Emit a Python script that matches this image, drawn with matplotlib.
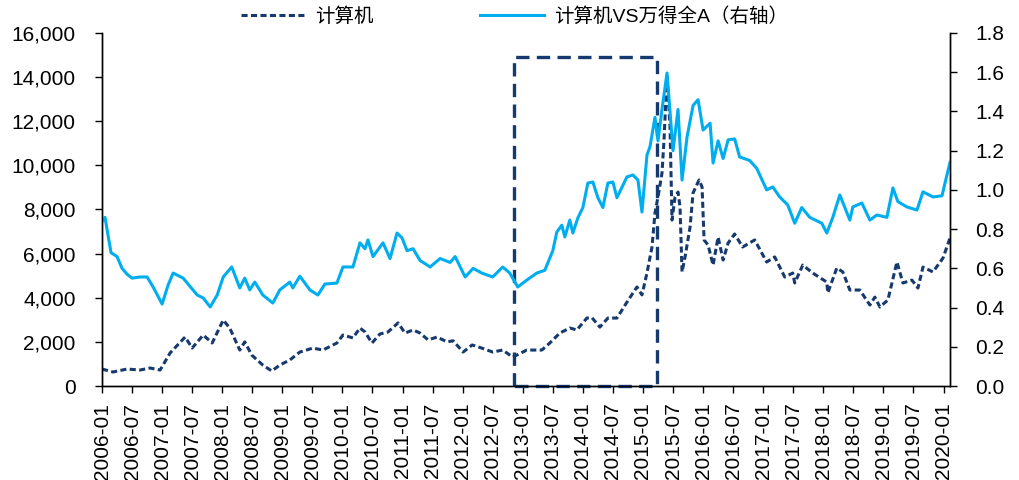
import matplotlib
matplotlib.use("Agg")
import matplotlib.pyplot as plt
from matplotlib.ticker import FuncFormatter, MultipleLocator

plt.rcParams['font.family'] = ['Liberation Sans', 'Noto Sans CJK SC', 'DejaVu Sans']

# months since 2006-01
months_idx = [0, 2.2, 5.0, 7.6, 9.6, 11.6, 13.6, 16.6, 18.0, 20.2,
              22.0, 24.2, 25.5, 27.5, 28.5, 29.9, 32.1, 33.9, 35.5, 37.5,
              39.5, 42.1, 44.1, 46.9, 48.1, 50.1, 51.5, 52.5, 53.9, 55.5,
              57.1, 59.1, 60.5, 62.1, 63.5, 65.1, 66.9, 68.9, 70.1, 72.1,
              73.9, 75.8, 78.0, 80.0, 82.0, 84.8, 87.8, 89.4, 91.4, 93.4,
              94.8, 96.8, 97.8, 99.4, 101.0, 102.8, 104.8, 106.8, 107.8, 108.8,
              109.8, 110.4, 111.0, 111.8, 112.2, 112.8, 113.4, 113.8, 114.4, 115.0,
              115.4, 115.8, 116.4, 117.4, 118.0, 119.2, 119.8, 120.2, 121.0, 122.0,
              123.0, 124.0, 125.0, 126.3, 127.9, 130.3, 132.7, 134.3, 136.3, 137.9,
              138.3, 139.9, 141.9, 144.7, 144.9, 146.7, 147.9, 149.3, 151.3, 153.3,
              154.3, 155.3, 156.9, 158.7, 159.9, 161.7, 162.9, 163.9, 165.9, 167.9,
              169.3]
computer_idx = [770, 635, 770, 725, 815, 725, 1500, 2220, 1720, 2310,
                1950, 2990, 2630, 1630, 2000, 1400, 950, 680, 950, 1180,
                1540, 1720, 1630, 1950, 2310, 2180, 2630, 2450, 1950, 2360,
                2450, 2860, 2400, 2540, 2400, 2090, 2220, 2000, 2050, 1540,
                1860, 1720, 1540, 1630, 1310, 1630, 1630, 1950, 2400, 2630,
                2540, 3080, 3100, 2670, 3080, 3080, 3800, 4490, 4130, 5120,
                6300, 7840, 8570, 9650, 11150, 14100, 11740, 7520, 8570, 8790,
                8110, 5170, 5850, 7200, 8750, 9340, 9020, 6620, 6390, 5480,
                6750, 5710, 6480, 6890, 6300, 6620, 5620, 5850, 4940, 5120,
                4670, 5480, 5120, 4710, 4220, 5350, 5170, 4350, 4350, 3670,
                4030, 3580, 3900, 5620, 4670, 4800, 4440, 5390, 5170, 5800,
                6710]

months_ratio = [0, 0.6, 1.8, 3.0, 4.0, 5.0, 6.0, 7.6, 9.0, 10.2,
                12.0, 13.2, 14.2, 16.2, 19.0, 20.2, 21.6, 23.0, 24.2, 25.9,
                27.5, 28.5, 29.5, 30.5, 32.1, 34.1, 35.5, 37.5, 38.1, 39.5,
                41.5, 43.1, 44.5, 46.9, 48.1, 50.1, 51.5, 52.5, 53.1, 54.1,
                56.1, 57.5, 58.9, 59.9, 60.9, 62.1, 63.5, 65.5, 67.5, 69.5,
                70.5, 72.5, 74.1, 75.8, 78.0, 80.0, 81.4, 83.0, 84.8, 86.8,
                88.4, 90.0, 90.8, 91.8, 92.4, 93.4, 94.0, 95.0, 96.0, 97.0,
                98.0, 99.0, 100.0, 101.0, 102.0, 102.8, 104.8, 106.0, 107.0, 107.8,
                108.8, 109.4, 110.4, 111.0, 111.8, 112.8, 114.0, 115.0, 115.8, 116.8,
                118.0, 119.0, 120.0, 121.4, 122.0, 123.0, 124.0, 125.0, 126.3, 127.3,
                129.3, 130.7, 132.7, 133.9, 135.3, 136.9, 138.3, 139.7, 141.3, 143.7,
                144.7, 145.9, 147.3, 149.3, 149.9, 151.7, 153.3, 154.7, 156.7, 157.9,
                158.9, 160.7, 162.7, 163.9, 165.9, 167.7, 168.3, 169.3]
ratio_vs_wind = [0.84, 0.86, 0.68, 0.66, 0.60, 0.57, 0.55, 0.556, 0.556, 0.505,
                 0.418, 0.515, 0.576, 0.55, 0.464, 0.449, 0.403, 0.464, 0.556, 0.607,
                 0.50, 0.55, 0.49, 0.53, 0.464, 0.423, 0.49, 0.53, 0.50, 0.56,
                 0.49, 0.464, 0.52, 0.525, 0.607, 0.607, 0.73, 0.70, 0.745, 0.66,
                 0.73, 0.65, 0.78, 0.755, 0.69, 0.70, 0.64, 0.607, 0.65, 0.63,
                 0.66, 0.556, 0.60, 0.576, 0.556, 0.607, 0.576, 0.505, 0.54, 0.576,
                 0.59, 0.69, 0.785, 0.82, 0.76, 0.846, 0.78, 0.857, 0.91, 1.035,
                 1.04, 0.96, 0.91, 1.035, 1.04, 0.96, 1.066, 1.076, 1.05, 0.887,
                 1.178, 1.22, 1.37, 1.25, 1.41, 1.596, 1.20, 1.41, 1.05, 1.27,
                 1.43, 1.46, 1.305, 1.34, 1.137, 1.25, 1.16, 1.255, 1.26, 1.168,
                 1.15, 1.11, 1.0, 1.015, 0.964, 0.923, 0.83, 0.91, 0.86, 0.83,
                 0.78, 0.86, 0.974, 0.846, 0.913, 0.933, 0.846, 0.872, 0.86, 1.01,
                 0.94, 0.913, 0.897, 0.99, 0.964, 0.97, 1.035, 1.14]

tick_months = list(range(0, 169, 6))
tick_labels = ["%d-%02d" % (2006 + m // 12, m % 12 + 1) for m in tick_months]

# highlighted window (months since 2006-01, left-axis value)
box_start, box_end, box_top = 82.2, 110.8, 14900

navy = "#173A6E"
light_blue = "#00ADEF"

fig = plt.figure(figsize=(10.19, 4.8), dpi=100)
ax = fig.add_axes([0.1001, 0.1958, 0.8322, 0.7355])
ax2 = ax.twinx()

l1, = ax.plot(months_idx, computer_idx, color=navy, lw=2.2,
              linestyle=(0, (2, 1.1)), label="计算机")
l2, = ax2.plot(months_ratio, ratio_vs_wind, color=light_blue, lw=2.2,
               label="计算机VS万得全A（右轴）")

ax.plot([box_start, box_start, box_end, box_end, box_start],
        [0, box_top, box_top, 0, 0], color=navy, lw=2.4,
        linestyle=(0, (4, 2.2)), clip_on=False, zorder=5)

ax.set_xlim(0, 169.3)
ax.set_ylim(0, 16000)
ax2.set_ylim(0, 1.8)
ax.yaxis.set_major_locator(MultipleLocator(2000))
ax.yaxis.set_major_formatter(FuncFormatter(lambda v, p: "{:,.0f}".format(v)))
ax2.yaxis.set_major_locator(MultipleLocator(0.2))
ax2.yaxis.set_major_formatter(FuncFormatter(lambda v, p: "{:.1f}".format(v)))

ax.set_xticks(tick_months)
ax.set_xticklabels(tick_labels, rotation=90)

for a in (ax, ax2):
    a.spines['top'].set_visible(False)
    a.tick_params(direction='out', length=5, width=1, labelsize=15, color='black')
    for s in a.spines.values():
        s.set_linewidth(1)
ax.tick_params(axis='x', pad=7)
ax.tick_params(axis='y', pad=14)
ax2.tick_params(axis='y', pad=13)

fig.legend([l1, l2], ["计算机", "计算机VS万得全A（右轴）"], loc='center',
           bbox_to_anchor=(0.505, 0.965), ncol=2, frameon=False, fontsize=14,
           handlelength=3.3, columnspacing=5.5, handletextpad=0.5)

fig.savefig("out.png", dpi=100)
